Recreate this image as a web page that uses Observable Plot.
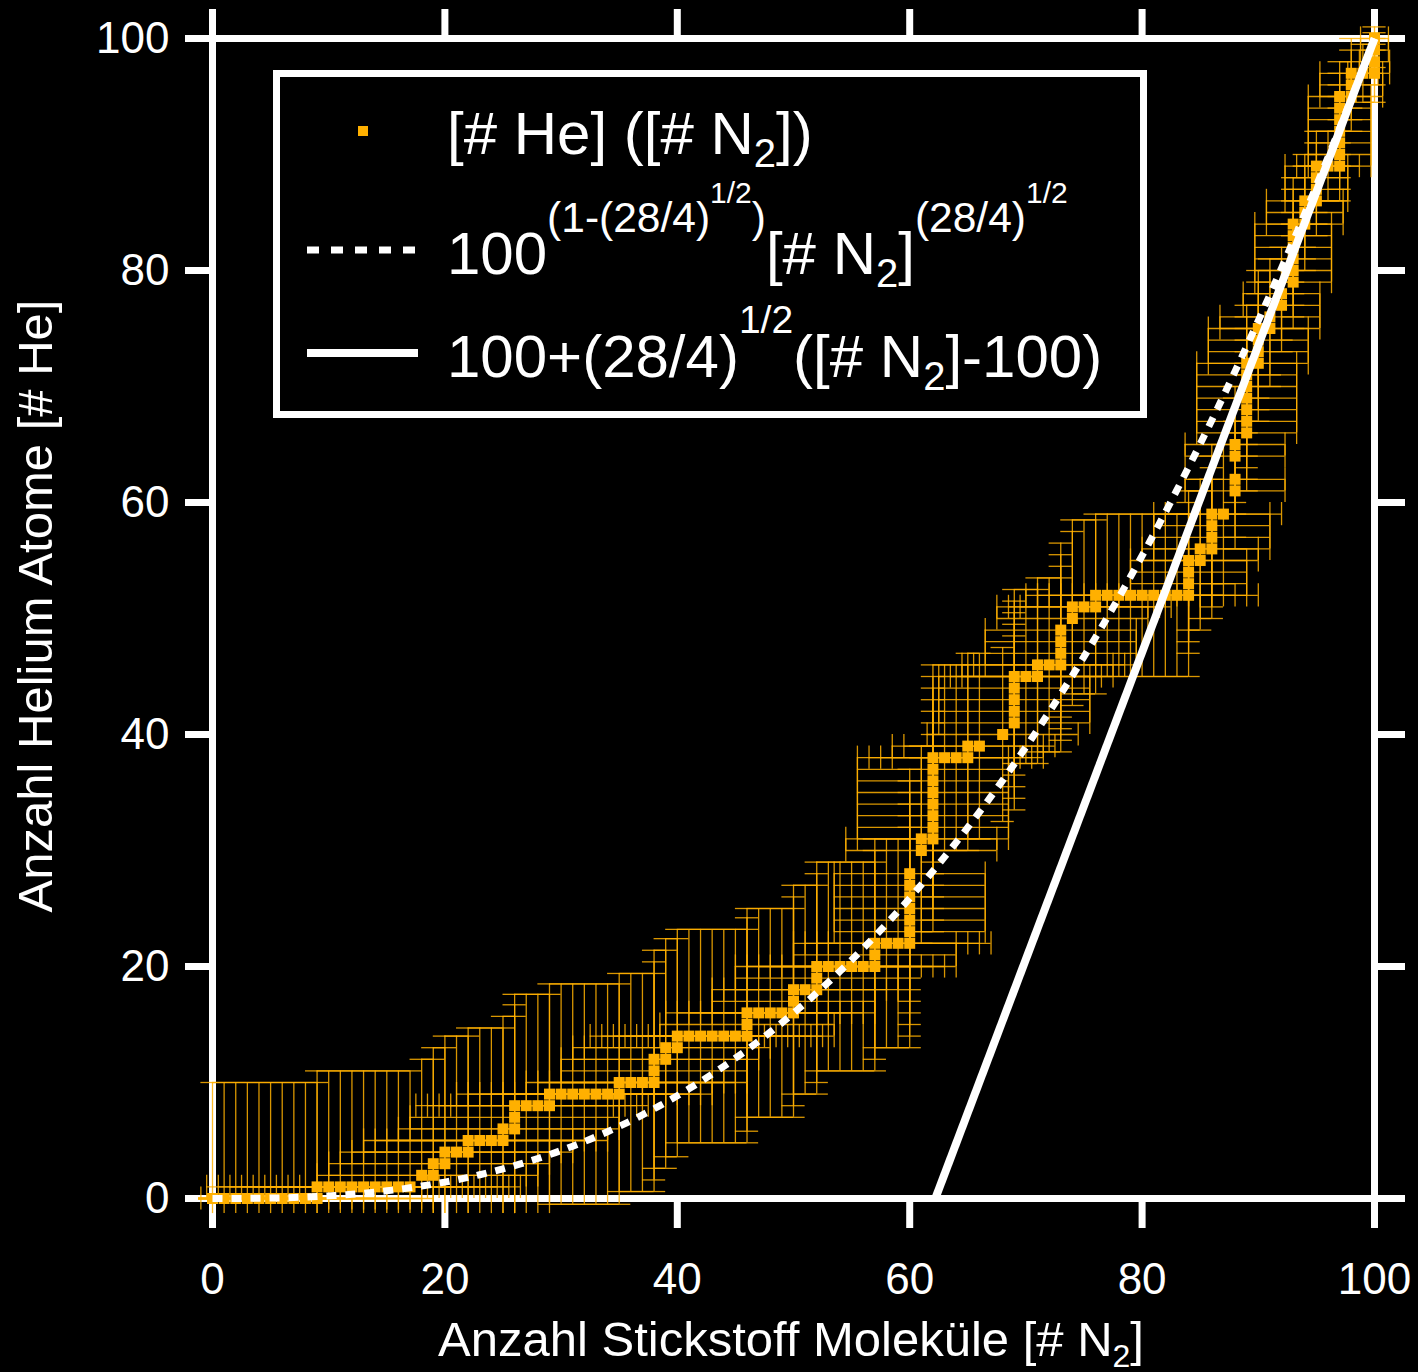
<!DOCTYPE html>
<html><head><meta charset="utf-8">
<script src="https://cdn.jsdelivr.net/npm/d3@7"></script>
<script src="https://cdn.jsdelivr.net/npm/@observablehq/plot@0.6"></script>
<style>html,body{margin:0;padding:0;background:#000;} #chart{width:1418px;height:1372px;}</style>
</head><body><div id="chart"></div>
<script>
// Anzahl Stickstoff Moleküle [# N2] (x) per recorded point
const n2 = [
  0,1,2,3,4,5,6,7,8,9,
  9,10,11,12,13,14,15,16,17,
  18,19,19,20,20,21,22,
  22,23,24,25,25,26,26,
  26,27,28,29,
  29,30,31,32,33,34,35,
  35,36,37,38,38,38,39,39,40,
  40,41,42,43,44,45,46,46,
  46,47,48,49,50,50,50,51,52,52,
  52,53,54,55,56,57,57,57,58,59,60,
  60,60,60,60,60,60,
  61,61,62,62,62,62,62,62,62,62,63,64,65,65,66,
  68,69,69,69,69,69,70,71,71,72,73,73,73,73,74,74,75,76,
  76,77,78,79,80,81,82,83,84,
  84,84,84,85,85,86,86,86,86,87,
  88,88,88,88,89,89,89,89,89,89,89,90,90,90,90,91,91,
  92,92,93,93,93,93,93,93,94,94,94,
  95,95,95,95,96,97,97,97,97,97,97,97,98,98,98,
  99,100,100,100,100
];
// Anzahl Helium Atome [# He] (y) per recorded point
const he = [
  0,0,0,0,0,0,0,0,0,0,
  1,1,1,1,1,1,1,1,1,
  2,2,3,3,4,4,4,
  5,5,5,5,6,6,7,
  8,8,8,8,
  9,9,9,9,9,9,9,
  10,10,10,10,11,12,12,13,13,
  14,14,14,14,14,14,14,15,
  16,16,16,16,16,17,18,18,18,19,
  20,20,20,20,20,20,21,22,22,22,22,
  23,24,25,26,27,28,
  30,31,31,32,33,34,35,36,37,38,38,38,38,39,39,
  40,41,42,43,44,45,45,45,46,46,46,47,48,49,50,51,51,51,
  52,52,52,52,52,52,52,52,52,
  53,54,55,55,56,56,57,58,59,59,
  61,62,64,65,66,67,68,69,70,71,72,72,73,74,75,75,76,
  77,78,79,80,81,82,83,84,84,85,86,
  86,87,88,89,89,89,90,91,92,93,94,95,95,96,97,
  97,97,98,99,100
];
// half-length of the N2 error bar for each point
const errN2 = [
  10,10,10,10,10,10,10,10,10,10,
  9.5,9.5,9.5,9.5,9.5,9.5,9.5,9.5,9.5,
  9,9,9,9,9,9,9,
  9,9,9,9,9,9,9,
  8.5,8.5,8.5,8.5,
  8,8,8,8,8,8,8,
  8,8,8,8,8,8,8,8,8,
  7.5,7.5,7.5,7.5,7.5,7.5,7.5,7.5,
  7,7,7,7,7,7,7,7,7,7,
  7,7,7,7,7,7,7,7,7,7,7,
  6.5,6.5,6.5,6.5,6.5,6.5,
  6.5,6.5,6.5,6.5,6.5,6.5,6.5,6.5,6.5,6.5,6.5,6.5,6.5,6.5,6.5,
  6.5,6.5,6.5,6.5,6.5,6.5,6.5,6.5,6.5,6.5,6.5,6.5,6.5,6.5,6.5,6.5,6.5,6.5,
  6,6,6,6,6,6,6,6,6,
  5,5,5,5,5,5,5,5,5,5,
  4.3,4.3,4.3,4.3,4.3,4.3,4.3,4.3,4.3,4.3,4.3,4.3,4.3,4.3,4.3,4.3,4.3,
  3.3,3.3,3.3,3.3,3.3,3.3,3.3,3.3,3.3,3.3,3.3,
  2.7,2.7,2.7,2.7,2.7,2.7,2.7,2.7,2.7,2.7,2.7,2.7,2.7,2.7,2.7,
  1.3,1.3,1.3,1.2,1.2
];
// half-length of the He error bar for each point
const errHe = [
  10,10,10,10,10,10,10,10,10,10,
  10,10,10,10,10,10,10,10,10,
  10,10,10,10,10,10,10,
  9.7,9.7,9.7,9.7,9.7,9.7,9.7,
  9.6,9.6,9.6,9.6,
  9.5,9.5,9.5,9.5,9.5,9.5,9.5,
  9.4,9.4,9.4,9.4,9.4,9.4,9.4,9.4,9.4,
  9.2,9.2,9.2,9.2,9.2,9.2,9.2,9.2,
  9,9,9,9,9,9,9,9,9,9,
  9,9,9,9,9,9,9,9,9,9,9,
  9,9,9,9,9,9,
  8,8,8,8,8,8,8,8,8,8,8,8,8,8,8,
  7.5,7.5,7.5,7.5,7.5,7.5,7.5,7.5,7.5,7.5,7.5,7.5,7.5,7.5,7.5,7.5,7.5,7.5,
  7,7,7,7,7,7,7,7,7,
  6,6,6,6,6,6,6,6,6,6,
  5,5,5,5,5,5,5,5,5,5,5,5,5,5,5,5,5,
  4,4,4,4,4,4,4,4,4,4,4,
  3,3,3,3,3,3,3,3,3,3,3,3,3,3,3,
  2.5,2.5,2,1.5,1
];
const xTicks = [0, 20, 40, 60, 80, 100];
const yTicks = [0, 20, 40, 60, 80, 100];
const massN2 = 28, massHe = 4;

const ORANGE = "#FFB000";
const FONT = "'Liberation Sans', Arial, Helvetica, sans-serif";
const k = Math.sqrt(massN2 / massHe);

const pts = n2.map((x, i) => ({x, y: he[i], ex: errN2[i], ey: errHe[i]}));
const lowX = -1.2, lowY = -1.3, cap = 1;
const errStyle = {stroke: ORANGE, strokeWidth: 1.3, strokeOpacity: 0.85};

// theoretical curves (from the legend formulas)
const curve = d3.range(0, 100.001, 0.5).map(x => ({x, y: Math.pow(100, 1 - k) * Math.pow(x, k)}));
const lin = [{x: 100 - 100 / k, y: 0}, {x: 100, y: 100}];

const chart = Plot.plot({
  width: 1418, height: 1372,
  marginLeft: 212, marginRight: 44, marginTop: 38, marginBottom: 174,
  x: {domain: [0, 100]},
  y: {domain: [0, 100]},
  style: {background: "#000", color: "#fff", fontFamily: FONT, fontSize: "44px", overflow: "visible"},
  marks: [
    Plot.frame({stroke: "#fff", strokeWidth: 7}),
    Plot.axisX({anchor: "bottom", ticks: xTicks, tickSize: 30, tickPadding: 34, strokeWidth: 7, fontSize: 44, label: null, tickFormat: d => String(d)}),
    Plot.axisX({anchor: "top", ticks: xTicks, tickSize: 30, strokeWidth: 7, label: null, tickFormat: () => ""}),
    Plot.axisY({anchor: "left", ticks: yTicks, tickSize: 27, tickPadding: 16, strokeWidth: 7, fontSize: 44, label: null, tickFormat: d => String(d)}),
    Plot.axisY({anchor: "right", ticks: yTicks, tickSize: 30, strokeWidth: 7, label: null, tickFormat: () => ""}),
    // error bars
    Plot.ruleX(pts, {x: "x", y1: d => Math.max(lowY, d.y - d.ey), y2: d => d.y + d.ey, ...errStyle}),
    Plot.ruleY(pts, {y: "y", x1: d => Math.max(lowX, d.x - d.ex), x2: d => d.x + d.ex, ...errStyle}),
    Plot.ruleY(pts, {y: d => d.y + d.ey, x1: d => Math.max(lowX, d.x - cap), x2: d => d.x + cap, ...errStyle}),
    Plot.ruleY(pts.filter(d => d.y - d.ey >= lowY), {y: d => d.y - d.ey, x1: d => Math.max(lowX, d.x - cap), x2: d => d.x + cap, ...errStyle}),
    Plot.ruleX(pts, {x: d => d.x + d.ex, y1: d => Math.max(lowY, d.y - cap), y2: d => d.y + cap, ...errStyle}),
    Plot.ruleX(pts.filter(d => d.x - d.ex >= lowX), {x: d => d.x - d.ex, y1: d => Math.max(lowY, d.y - cap), y2: d => d.y + cap, ...errStyle}),
    // points
    Plot.dot(pts, {x: "x", y: "y", symbol: "square", r: 6.2, fill: ORANGE, stroke: "none"}),
    // model curves
    Plot.line(curve, {x: "x", y: "y", stroke: "#fff", strokeWidth: 7, strokeDasharray: "10,9", strokeLinecap: "butt"}),
    Plot.line(lin, {x: "x", y: "y", stroke: "#fff", strokeWidth: 8, strokeLinecap: "butt"})
  ]
});
document.getElementById("chart").appendChild(chart);

const svg = d3.select(chart);
// axis titles
const xt = svg.append("text").attr("x", 791).attr("y", 1356).attr("text-anchor", "middle")
  .attr("fill", "#fff").style("font-family", FONT).style("font-size", "49px");
xt.append("tspan").text("Anzahl Stickstoff Moleküle [# N");
xt.append("tspan").attr("dy", 11).style("font-size", "32px").text("2");
xt.append("tspan").attr("dy", -11).text("]");

svg.append("text").attr("transform", "translate(52,606) rotate(-90)").attr("text-anchor", "middle")
  .attr("fill", "#fff").style("font-family", FONT).style("font-size", "49px")
  .text("Anzahl Helium Atome [# He]");

// legend
const lg = svg.append("g");
lg.append("rect").attr("x", 276.5).attr("y", 73.5).attr("width", 867).attr("height", 341)
  .attr("fill", "#000").attr("stroke", "#fff").attr("stroke-width", 7);
lg.append("rect").attr("x", 358).attr("y", 126).attr("width", 10).attr("height", 10).attr("fill", ORANGE);
lg.append("line").attr("x1", 307).attr("x2", 418).attr("y1", 250).attr("y2", 250)
  .attr("stroke", "#fff").attr("stroke-width", 7).attr("stroke-dasharray", "12,12");
lg.append("line").attr("x1", 307).attr("x2", 418).attr("y1", 353).attr("y2", 353)
  .attr("stroke", "#fff").attr("stroke-width", 8);

function legendText(y, parts) {
  const t = lg.append("text").attr("x", 447).attr("y", y).attr("fill", "#fff")
    .attr("text-anchor", "start")
    .style("font-family", FONT).style("font-size", "60px");
  for (const [txt, size, dy] of parts) {
    t.append("tspan").attr("dy", dy).style("font-size", size + "px").text(txt);
  }
}
legendText(154, [["[# He] ([# N", 60, 0], ["2", 40, 13], ["])", 60, -13]]);
legendText(274, [["100", 60, 0], ["(1-(28/4)", 42.5, -42], ["1/2", 30, -29], [")", 42.5, 29],
  ["[# N", 60, 42], ["2", 40, 13], ["]", 60, -13], ["(28/4)", 42.5, -42], ["1/2", 30, -29]]);
legendText(377, [["100+(28/4)", 60, 0], ["1/2", 39, -44], ["([# N", 60, 44], ["2", 40, 13], ["]-100)", 60, -13]]);
</script>
</body></html>
